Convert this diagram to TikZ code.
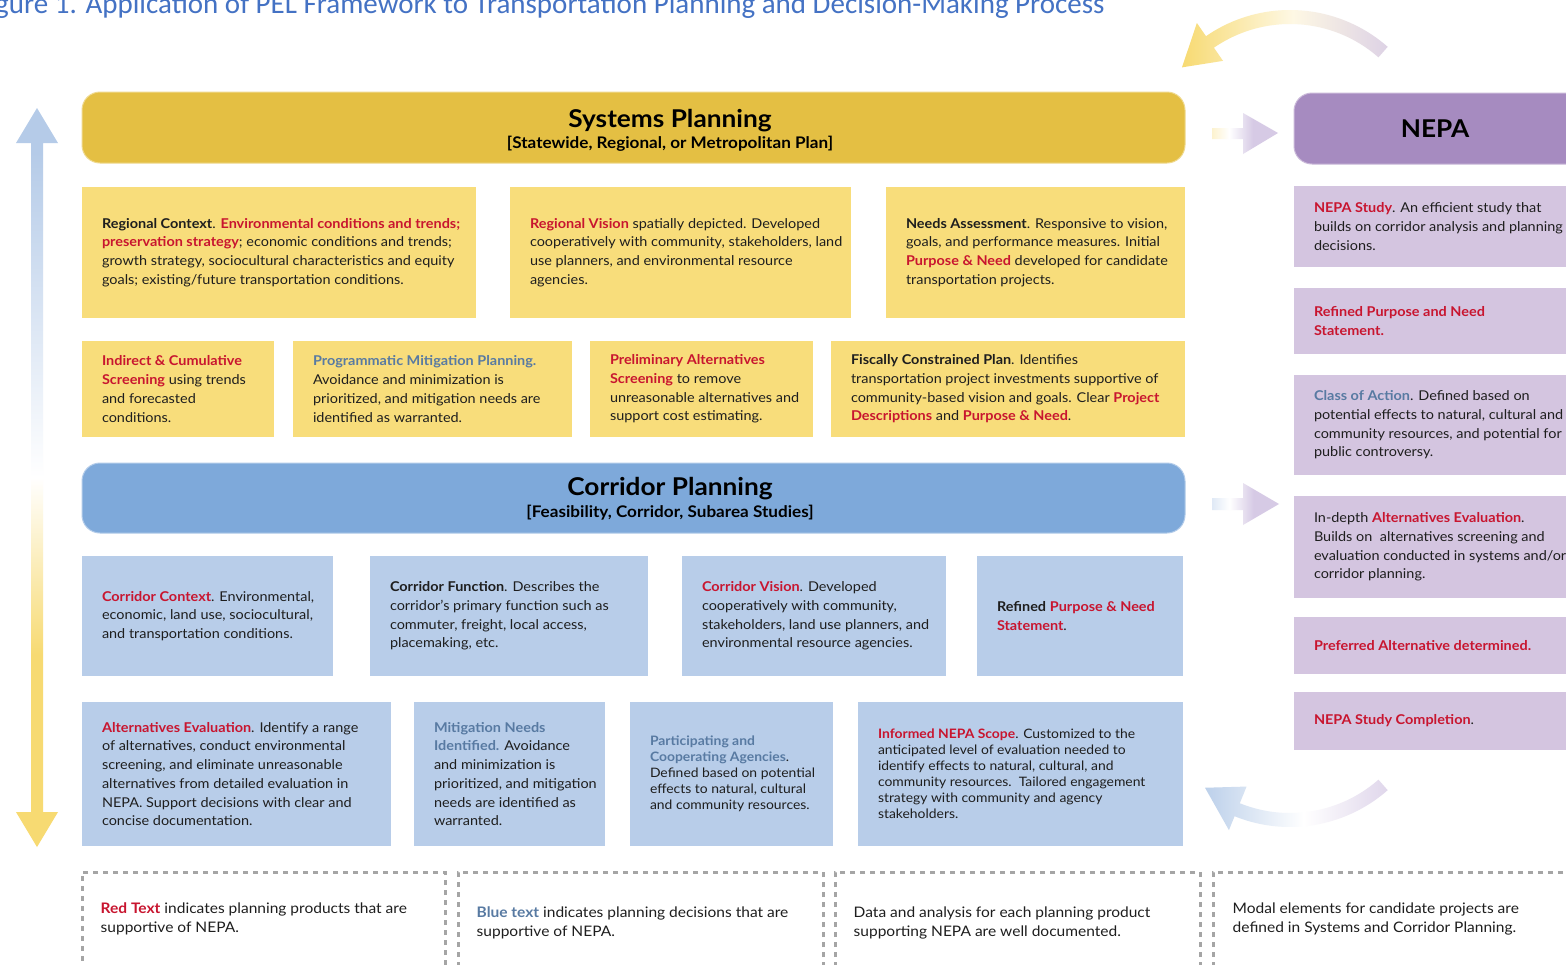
\documentclass[tikz,border=0pt]{standalone}
\usepackage{fontspec}
\setmainfont{Lato}[FakeStretch=1.07]
\newfontfamily\titlefont{Carlito}
\usetikzlibrary{calc}
\definecolor{sysgold}{HTML}{E4BF43}
\definecolor{ybox}{HTML}{F8DD7B}
\definecolor{corblue}{HTML}{7EA9DA}
\definecolor{bbox}{HTML}{B8CDE9}
\definecolor{nepap}{HTML}{A68BC0}
\definecolor{pbox}{HTML}{D4C5E0}
\definecolor{redt}{HTML}{C8152F}
\definecolor{bluet}{HTML}{587AA2}
\definecolor{blackt}{HTML}{1E1E1E}
\definecolor{titleblue}{HTML}{4472C4}
\definecolor{legendgray}{HTML}{A5A5A5}
\definecolor{arrowyel}{HTML}{F7DA72}
\definecolor{arrowblue}{HTML}{B5CBE8}
\definecolor{arrowbluedk}{HTML}{A3BFE4}
\definecolor{arrowpur}{HTML}{D6CAE5}
\definecolor{cream}{HTML}{FEF8E4}
\pgfdeclareverticalshading{vbar}{100bp}{color(0bp)=(arrowyel); color(38bp)=(arrowyel); color(50bp)=(white); color(72bp)=(arrowblue); color(100bp)=(arrowblue)}
\pgfdeclarehorizontalshading{hyp}{100bp}{color(0bp)=(arrowyel); color(38bp)=(white); color(56bp)=(arrowpur); color(100bp)=(arrowpur)}
\pgfdeclarehorizontalshading{hbp}{100bp}{color(0bp)=(arrowbluedk); color(38bp)=(white); color(56bp)=(arrowpur); color(100bp)=(arrowpur)}
\pgfdeclarehorizontalshading{cyp}{100bp}{color(0bp)=(arrowyel); color(25bp)=(arrowyel); color(52bp)=(cream); color(80bp)=(arrowpur); color(100bp)=(arrowpur)}
\pgfdeclarehorizontalshading{cbp}{100bp}{color(0bp)=(arrowblue); color(22bp)=(arrowblue); color(52bp)=(white); color(82bp)=(arrowpur); color(100bp)=(arrowpur)}
\newcommand\rd[1]{\textcolor{redt}{\bfseries #1}}
\newcommand\bl[1]{\textcolor{bluet}{\bfseries #1}}
\newcommand\bx[8]{%
  \node[#2, minimum width={(#5)-(#3)}, minimum height={(#6)-(#4)}] (#1) at ({((#3)+(#5))/2},{((#4)+(#6))/2}) {};
  \node[txt, #7] (#1t) at ([xshift=20pt]#1.west) {#8};}
\begin{document}
\begin{tikzpicture}[x=1pt, y=-1pt,
  txt/.style={inner sep=0pt, align=left, anchor=west, text=blackt, font=\fontsize{13.5}{18.7}\selectfont},
  tight/.style={font=\fontsize{13}{16}\selectfont},
  legtxt/.style={font=\fontsize{14.5}{19}\selectfont},
  ybx/.style={rectangle, fill=ybox, inner sep=0pt},
  bbx/.style={rectangle, fill=bbox, inner sep=0pt},
  pbx/.style={rectangle, fill=pbox, inner sep=0pt},
  legbox/.style={rectangle, draw=legendgray, line width=3pt, dash pattern=on 5pt off 5pt, inner sep=0pt},
  bar/.style={rectangle, rounded corners=18pt, inner sep=0pt},
  bartitle/.style={anchor=base, text=black, font=\fontsize{24.5}{30}\selectfont\bfseries},
  barsub/.style={anchor=base, text=black, font=\fontsize{16}{19}\selectfont\bfseries}]
\useasboundingbox (0,0) rectangle (1566,964);
\fill[white] (0,0) rectangle (1566,964);

% title
\node[anchor=base east, inner sep=0pt, text=titleblue, font=\titlefont\fontsize{29}{33}\selectfont] (title) at (1105,13)
  {Figure 1. Application of PEL Framework to Transportation Planning and Decision-Making Process};

% vertical arrow
\path[shading=vbar] (31,143) -- (16,143) -- (37,108) -- (58,143) -- (43,143) -- (43,812) -- (58,812) -- (37,847) -- (16,812) -- (31,812) -- cycle;

% systems planning bar
\node[bar, fill=sysgold, draw=sysgold!60!white, line width=1pt, minimum width=1103, minimum height=71] (sys) at (633.5,127.5) {};
\node[bartitle] (syst) at (670,127) {Systems Planning};
\node[barsub] (syss) at (670,148) {[Statewide, Regional, or Metropolitan Plan]};

% corridor planning bar
\node[bar, fill=corblue, draw=corblue!60!white, line width=1pt, minimum width=1103, minimum height=70] (cor) at (633.5,498) {};
\node[bartitle] (cort) at (670,495) {Corridor Planning};
\node[barsub] (cors) at (670,517) {[Feasibility, Corridor, Subarea Studies]};

% NEPA bar
\node[bar, fill=nepap, draw=nepap!60!white, line width=1pt, minimum width=340, minimum height=71] (nepa) at (1464,128.5) {};
\node[bartitle] (nepat) at (1435,137) {NEPA};

% row 1
\bx{ra}{ybx}{82}{187}{476}{318}{}{\textbf{Regional Context}. \rd{Environmental conditions and trends;}\\ \rd{preservation strategy}; economic conditions and trends;\\ growth strategy, sociocultural characteristics and equity\\ goals; existing/future transportation conditions.}
\bx{rv}{ybx}{510}{187}{851}{318}{}{\rd{Regional Vision} spatially depicted. Developed\\ cooperatively with community, stakeholders, land\\ use planners, and environmental resource\\ agencies.}
\bx{na}{ybx}{886}{187}{1185}{318}{}{\textbf{Needs Assessment}. Responsive to vision,\\ goals, and performance measures. Initial\\ \rd{Purpose \& Need} developed for candidate\\ transportation projects.}
% row 2
\bx{ic}{ybx}{82}{341}{274}{437}{}{\rd{Indirect \& Cumulative}\\ \rd{Screening} using trends\\ and forecasted\\ conditions.}
\bx{pm}{ybx}{293}{341}{572}{437}{}{\bl{Programmatic Mitigation Planning.}\\ Avoidance and minimization is\\ prioritized, and mitigation needs are\\ identified as warranted.}
\bx{pa}{ybx}{590}{341}{813}{437}{}{\rd{Preliminary Alternatives}\\ \rd{Screening} to remove\\ unreasonable alternatives and\\ support cost estimating.}
\bx{fc}{ybx}{831}{341}{1185}{437}{}{\textbf{Fiscally Constrained Plan}. Identifies\\ transportation project investments supportive of\\ community-based vision and goals. Clear \rd{Project}\\ \rd{Descriptions} and \rd{Purpose \& Need}.}
% row 3
\bx{cc}{bbx}{82}{556}{333}{676}{}{\rd{Corridor Context}. Environmental,\\ economic, land use, sociocultural,\\ and transportation conditions.}
\bx{cf}{bbx}{370}{556}{648}{676}{}{\textbf{Corridor Function}. Describes the\\ corridor’s primary function such as\\ commuter, freight, local access,\\ placemaking, etc.}
\bx{cv}{bbx}{682}{556}{946}{676}{}{\rd{Corridor Vision}. Developed\\ cooperatively with community,\\ stakeholders, land use planners, and\\ environmental resource agencies.}
\bx{rp}{bbx}{977}{556}{1183}{676}{}{\textbf{Refined} \rd{Purpose \& Need}\\ \rd{Statement}.}
% row 4
\bx{ae}{bbx}{82}{702}{391}{846}{}{\rd{Alternatives Evaluation}. Identify a range\\ of alternatives, conduct environmental\\ screening, and eliminate unreasonable\\ alternatives from detailed evaluation in\\ NEPA. Support decisions with clear and\\ concise documentation.}
\bx{mn}{bbx}{414}{702}{605}{846}{}{\bl{Mitigation Needs}\\ \bl{Identified.} Avoidance\\ and minimization is\\ prioritized, and mitigation\\ needs are identified as\\ warranted.}
\bx{pc}{bbx}{630}{702}{833}{846}{tight}{\bl{Participating and}\\ \bl{Cooperating Agencies}.\\ Defined based on potential\\ effects to natural, cultural\\ and community resources.}
\bx{ns}{bbx}{858}{702}{1183}{846}{tight}{\rd{Informed NEPA Scope}. Customized to the\\ anticipated level of evaluation needed to\\ identify effects to natural, cultural, and\\ community resources.\ \ Tailored engagement\\ strategy with community and agency\\ stakeholders.}
% NEPA column
\bx{n1}{pbx}{1294}{186}{1640}{267}{}{\rd{NEPA Study}. An efficient study that\\ builds on corridor analysis and planning\\ decisions.}
\bx{n2}{pbx}{1294}{288}{1640}{354}{}{\rd{Refined Purpose and Need}\\ \rd{Statement.}}
\bx{n3}{pbx}{1294}{375}{1640}{475}{}{\bl{Class of Action}. Defined based on\\ potential effects to natural, cultural and\\ community resources, and potential for\\ public controversy.}
\bx{n4}{pbx}{1294}{496}{1640}{598}{}{In-depth \rd{Alternatives Evaluation}.\\ Builds on\ \ alternatives screening and\\ evaluation conducted in systems and/or\\ corridor planning.}
\bx{n5}{pbx}{1294}{617}{1640}{674}{}{\rd{Preferred Alternative determined.}}
\bx{n6}{pbx}{1294}{692}{1640}{750}{}{\rd{NEPA Study Completion}.}

% straight arrows
\path[shading=hyp] (1212,128) -- (1243,128) -- (1243,113) -- (1278,133) -- (1243,154) -- (1243,139) -- (1212,139) -- cycle;
\path[shading=hbp] (1212,498) -- (1243,498) -- (1243,483) -- (1279,504) -- (1243,525) -- (1243,510) -- (1212,510) -- cycle;

% curved arrows
\path[shading=cyp] plot[domain=-48.7:-124.6, samples=40, variable=\t] ({1290+148*cos(\t)},{158+148*sin(\t)})
  -- ({1290+164*cos(-124.6)},{158+164*sin(-124.6)})
  -- ({1290+141*cos(-140)},{158+141*sin(-140)})
  -- ({1290+118*cos(-124.6)},{158+118*sin(-124.6)})
  -- plot[domain=-124.6:-48.7, samples=40, variable=\t] ({1290+134*cos(\t)},{158+134*sin(\t)}) -- cycle;
\path[shading=cbp] plot[domain=48.7:112, samples=40, variable=\t] ({1290+148*cos(\t)},{679+148*sin(\t)})
  -- ({1290+163*cos(112)},{679+163*sin(112)})
  -- ({1290+138*cos(128)},{679+138*sin(128)})
  -- ({1290+116*cos(112)},{679+116*sin(112)})
  -- plot[domain=112:48.7, samples=40, variable=\t] ({1290+134*cos(\t)},{679+134*sin(\t)}) -- cycle;

% legend
\node[legbox, minimum width=363, minimum height=130] (l1) at (263.5,937) {};
\node[legbox, minimum width=365, minimum height=130] (l2) at (640.5,937) {};
\node[legbox, minimum width=365, minimum height=130] (l3) at (1017.5,937) {};
\node[legbox, minimum width=380, minimum height=130] (l4) at (1403,937) {};
\node[txt, legtxt] (l1t) at ($(l1.north west)+(20,48)$) {\rd{Red Text} indicates planning products that are\\ supportive of NEPA.};
\node[txt, legtxt] (l2t) at ($(l2.north west)+(20,52)$) {\bl{Blue text} indicates planning decisions that are\\ supportive of NEPA.};
\node[txt, legtxt] (l3t) at ($(l3.north west)+(20,52)$) {Data and analysis for each planning product\\ supporting NEPA are well documented.};
\node[txt, legtxt] (l4t) at ($(l4.north west)+(21,48)$) {Modal elements for candidate projects are\\ defined in Systems and Corridor Planning.};
\end{tikzpicture}
\end{document}
